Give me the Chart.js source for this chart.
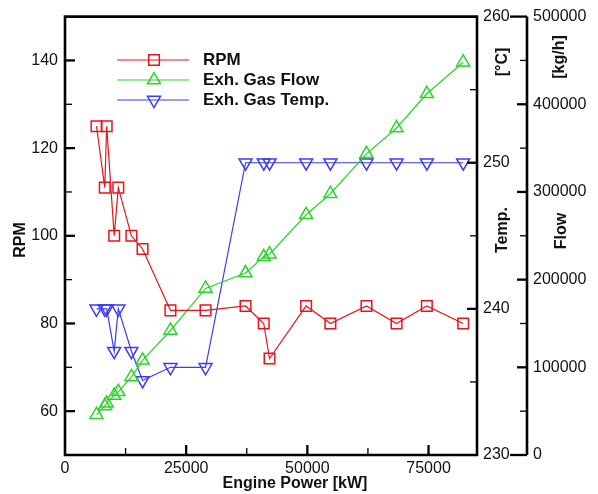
<!DOCTYPE html>
<html>
<head>
<meta charset="utf-8">
<script src="https://cdn.jsdelivr.net/npm/chart.js@4.4.1/dist/chart.umd.min.js"></script>
<style>
  html, body { margin: 0; padding: 0; background: #fff; }
  #chart { display: block; }
</style>
</head>
<body>
<canvas id="chart" width="598" height="494"></canvas>
<script>
// Engine power [kW] for each operating point (in measurement order)
const power = [6500, 8200, 8600, 10150, 11000, 13700, 16000, 21750, 29000,
               37250, 41000, 42200, 49750, 54750, 62200, 68400, 74650, 82150];
const rpm = [125, 111, 125, 100, 111, 100, 97, 83, 83,
             84, 80, 72, 84, 80, 84, 80, 84, 80];
const gasFlow = [46000, 56000, 59000, 68000, 72000, 89000, 108000, 142000, 190000,
                 207500, 226000, 229000, 274000, 298000, 343500, 373000, 412000, 448000];
const gasTemp = [240, 240, 240, 237.1, 240, 237.1, 235.1, 236, 236,
                 250, 250, 250, 250, 250, 250, 250, 250, 250];

// axis tick labels
const powerTicks = [0, 25000, 50000, 75000];
const rpmTicks = [60, 80, 100, 120, 140];
const tempTicks = [230, 240, 250, 260];
const flowTicks = [0, 100000, 200000, 300000, 400000, 500000];

const FONT = 'Liberation Sans, Arial, Helvetica, sans-serif';
const TEXT = '#111';
const RED = '#e8141c';
const GREEN = '#2ad42a';
const BLUE = '#3c3cf8';

function points(ys) {
    return power.map((x, i) => ({ x: x, y: ys[i] }));
}

function series(label, ys, color, axis, style, rotation) {
    return {
        label: label,
        data: points(ys),
        yAxisID: axis,
        borderColor: color,
        backgroundColor: color,
        borderWidth: 1.2,
        pointStyle: style,
        rotation: rotation,
        pointRadius: 7.5,
        pointBorderWidth: 1.5,
        pointBorderColor: color,
        pointBackgroundColor: 'rgba(0,0,0,0)',
        tension: 0,
    };
}

function fixedTicks(values) {
    return (scale) => { scale.ticks = values.map(v => ({ value: v })); };
}

function tickOptions(padding) {
    return {
        font: { family: FONT, size: 16 },
        color: TEXT,
        padding: padding,
        autoSkip: false,
        maxRotation: 0,
        callback: (v) => String(v),
    };
}

// minor ticks sit halfway between the majors
function minorValues(majors, min, max) {
    const step = (majors[1] - majors[0]) / 2;
    const out = [];
    for (let v = majors[0] - step; v <= max; v += step) {
        if (v <= min || v >= max || majors.includes(v)) continue;
        out.push(v);
    }
    return out;
}

function vTicks(ctx, scale, x, dir, majors, minors, endLen) {
    majors.forEach(v => {
        const y = scale.getPixelForValue(v);
        const atEnd = v === scale.min || v === scale.max;
        if (atEnd && !endLen) return;
        ctx.lineWidth = 2.3;
        ctx.beginPath();
        ctx.moveTo(x, y);
        ctx.lineTo(x + dir * (atEnd ? endLen : 10), y);
        ctx.stroke();
    });
    minors.forEach(v => {
        const y = scale.getPixelForValue(v);
        ctx.lineWidth = 1.3;
        ctx.beginPath();
        ctx.moveTo(x, y);
        ctx.lineTo(x + dir * 7, y);
        ctx.stroke();
    });
}

function vText(ctx, text, x, y) {
    ctx.save();
    ctx.translate(x, y);
    ctx.rotate(-Math.PI / 2);
    ctx.fillText(text, 0, 0);
    ctx.restore();
}

const framePlugin = {
    id: 'frame',
    afterDraw(chart) {
        const ctx = chart.ctx;
        const a = chart.chartArea;
        const sx = chart.scales.x;
        const sRpm = chart.scales.yRpm;
        const sTemp = chart.scales.yTemp;
        const sFlow = chart.scales.yFlow;
        const flowX = sFlow.left;

        ctx.save();
        ctx.strokeStyle = '#000';
        ctx.lineCap = 'butt';

        // ticks (inward)
        vTicks(ctx, sRpm, a.left, 1, rpmTicks, minorValues(rpmTicks, sRpm.min, sRpm.max));
        vTicks(ctx, sTemp, a.right, -1, tempTicks, minorValues(tempTicks, sTemp.min, sTemp.max));
        vTicks(ctx, sFlow, flowX, -1, flowTicks, minorValues(flowTicks, sFlow.min, sFlow.max), 17);
        powerTicks.forEach(v => {
            if (v === sx.min) return;
            const x = sx.getPixelForValue(v);
            ctx.lineWidth = 2.3;
            ctx.beginPath();
            ctx.moveTo(x, a.bottom);
            ctx.lineTo(x, a.bottom - 10);
            ctx.stroke();
        });
        minorValues(powerTicks, sx.min, sx.max).forEach(v => {
            const x = sx.getPixelForValue(v);
            ctx.lineWidth = 1.3;
            ctx.beginPath();
            ctx.moveTo(x, a.bottom);
            ctx.lineTo(x, a.bottom - 7);
            ctx.stroke();
        });

        // frame + flow axis line
        ctx.lineWidth = 2.6;
        ctx.beginPath();
        ctx.moveTo(a.left, a.top);
        ctx.lineTo(a.right, a.top);
        ctx.lineTo(a.right, a.bottom);
        ctx.lineTo(a.left, a.bottom);
        ctx.closePath();
        ctx.moveTo(flowX, a.top);
        ctx.lineTo(flowX, a.bottom);
        ctx.stroke();

        // axis titles
        ctx.fillStyle = TEXT;
        ctx.font = 'bold 16px ' + FONT;
        ctx.textAlign = 'center';
        ctx.textBaseline = 'middle';
        ctx.fillText('Engine Power [kW]', 295, 484);
        vText(ctx, 'RPM', 21, 240);
        vText(ctx, 'Temp.', 503, 230);
        vText(ctx, '[°C]', 503, 62);
        vText(ctx, 'Flow', 562, 231);
        vText(ctx, '[kg/h]', 560, 57);

        // legend inside the plot
        const rows = [60, 80, 100];
        ctx.font = 'bold 17px ' + FONT;
        ctx.textAlign = 'left';
        chart.data.datasets.forEach((ds, i) => {
            const y = rows[i];
            ctx.strokeStyle = ds.borderColor;
            ctx.lineWidth = ds.borderWidth;
            ctx.beginPath();
            ctx.moveTo(117, y);
            ctx.lineTo(189, y);
            ctx.stroke();
            ctx.lineWidth = ds.pointBorderWidth;
            ctx.fillStyle = 'rgba(0,0,0,0)';
            Chart.helpers.drawPoint(ctx, {
                pointStyle: ds.pointStyle,
                rotation: ds.rotation,
                radius: ds.pointRadius,
                borderWidth: ds.pointBorderWidth,
            }, 154, y);
            ctx.fillStyle = TEXT;
            ctx.fillText(ds.label, 203, y);
        });
        ctx.restore();
    }
};

const noGrid = { display: false, drawTicks: false };

function getChartConfig() {
    return {
        type: 'line',
        data: {
            datasets: [
                series('RPM', rpm, RED, 'yRpm', 'rect', 0),
                series('Exh. Gas Flow', gasFlow, GREEN, 'yFlow', 'triangle', 0),
                series('Exh. Gas Temp.', gasTemp, BLUE, 'yTemp', 'triangle', 180),
            ]
        },
        options: {
            responsive: false,
            animation: false,
            layout: { padding: { top: 16, left: 0, right: 0, bottom: 0 } },
            plugins: {
                legend: { display: false },
                tooltip: { enabled: false },
            },
            scales: {
                x: {
                    type: 'linear',
                    min: 0,
                    max: 85000,
                    afterBuildTicks: fixedTicks(powerTicks),
                    afterFit: (s) => { s.height = 39; },
                    grid: noGrid,
                    border: { display: false },
                    ticks: tickOptions(4),
                },
                yRpm: {
                    type: 'linear',
                    position: 'left',
                    min: 50,
                    max: 150,
                    afterBuildTicks: fixedTicks(rpmTicks),
                    afterFit: (s) => { s.width = 65; },
                    grid: noGrid,
                    border: { display: false },
                    ticks: tickOptions(7),
                },
                yTemp: {
                    type: 'linear',
                    position: 'right',
                    weight: 1,
                    min: 230,
                    max: 260,
                    afterBuildTicks: fixedTicks(tempTicks),
                    afterFit: (s) => { s.width = 50; },
                    grid: noGrid,
                    border: { display: false },
                    ticks: tickOptions(6),
                },
                yFlow: {
                    type: 'linear',
                    position: 'right',
                    weight: 2,
                    min: 0,
                    max: 500000,
                    afterBuildTicks: fixedTicks(flowTicks),
                    afterFit: (s) => { s.width = 71; },
                    grid: noGrid,
                    border: { display: false },
                    ticks: tickOptions(6),
                },
            }
        },
        plugins: [framePlugin]
    };
}

new Chart(document.getElementById('chart').getContext('2d'), getChartConfig());
</script>
</body>
</html>
